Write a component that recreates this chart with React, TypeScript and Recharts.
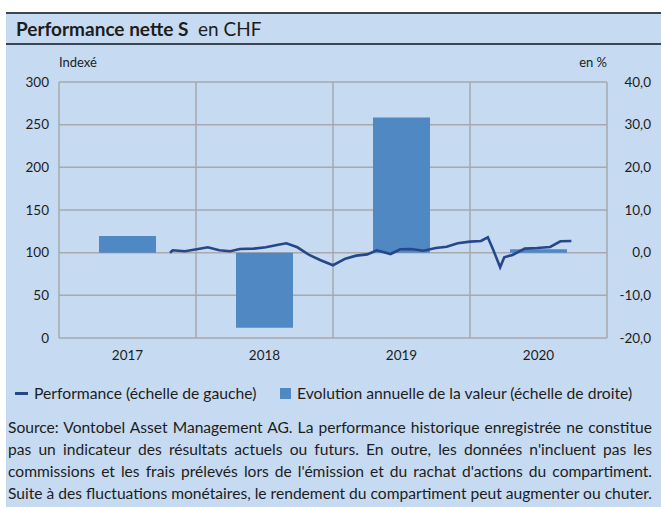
import {
  ComposedChart,
  Bar,
  Line,
  XAxis,
  YAxis,
  CartesianGrid,
} from 'recharts';

const years = ['2017', '2018', '2019', '2020'];
const annualReturns = [3.9, -17.6, 31.7, 0.8];

// performance index (left scale), dates as decimal years
const perfDates = [
  2017.81, 2017.83, 2017.92, 2018.015, 2018.086, 2018.17, 2018.25, 2018.32,
  2018.42, 2018.51, 2018.6, 2018.66, 2018.74, 2018.83, 2018.91, 2019.0,
  2019.09, 2019.17, 2019.25, 2019.32, 2019.42, 2019.49, 2019.57, 2019.66,
  2019.75, 2019.83, 2019.91, 2020.0, 2020.08, 2020.13, 2020.17, 2020.22,
  2020.25, 2020.31, 2020.4, 2020.49, 2020.585, 2020.66, 2020.74,
];
const perfIndex = [
  100, 102.8, 101.6, 104.3, 106.3, 102.8, 101.6, 104.3,
  104.7, 106.3, 109.3, 111, 106.3, 97, 91.1, 85.3,
  93, 96.5, 98, 102.8, 98.4, 104, 104.3, 102.3,
  105.5, 107, 111, 112.9, 113.7, 118, 103.1, 82.9,
  94.6, 97.3, 104.7, 105.5, 106.7, 113.3, 113.7,
];

const leftTicks = [0, 50, 100, 150, 200, 250, 300];
const rightTicks = [-20, -10, 0, 10, 20, 30, 40];
const timeTicks = [2017, 2018, 2019, 2020, 2021];

const footerLines = [
  'Source: Vontobel Asset Management AG. La performance historique enregistrée ne constitue',
  "pas un indicateur des résultats actuels ou futurs. En outre, les données n'incluent pas les",
  "commissions et les frais prélevés lors de l'émission et du rachat d'actions du compartiment.",
  'Suite à des fluctuations monétaires, le rendement du compartiment peut augmenter ou chuter.',
];

const FONT = 'Lato, "Open Sans", sans-serif';
const BG = '#c6daf1';
const BAR = '#4f88c3';
const LINE = '#27478b';
const GRID = '#a7a9ac';
const TEXT = '#1d1d1d';

const barData = years.map((y, i) => ({ year: y, ret: annualReturns[i] }));
const lineData = perfDates.map((t, i) => ({ t, v: perfIndex[i] }));

const RightTick = (props: any) => {
  const { x, y, payload } = props;
  return (
    <text x={x + 44} y={y} dy="0.35em" textAnchor="end" fontSize={13.5} fill={TEXT} fontFamily={FONT}>
      {payload.value.toFixed(1).replace('.', ',')}
    </text>
  );
};

export default function App() {
  return (
    <div
      style={{
        position: 'relative',
        width: 661,
        height: 507,
        background: '#fff',
        fontFamily: FONT,
        color: TEXT,
        overflow: 'hidden',
      }}
    >
      <style>{'body{margin:0;overflow:hidden}'}</style>
      <div style={{ position: 'absolute', left: 6, top: 12, width: 655, height: 495, background: BG }} />
      <div style={{ position: 'absolute', left: 6, top: 12, width: 655, height: 2, background: '#3b4652' }} />
      <div style={{ position: 'absolute', left: 6, top: 43, width: 655, height: 2, background: '#3b4652' }} />
      <div style={{ position: 'absolute', left: 16, top: 17, fontSize: 19, lineHeight: '24px', whiteSpace: 'nowrap' }}>
        <b>Performance nette S</b>&nbsp; en CHF
      </div>
      <div style={{ position: 'absolute', left: 59, top: 53, fontSize: 13, lineHeight: '18px' }}>Indexé</div>
      <div style={{ position: 'absolute', right: 661 - 607, top: 53, fontSize: 13, lineHeight: '18px' }}>en %</div>

      <div style={{ position: 'absolute', left: 0, top: 0 }}>
        <ComposedChart width={661} height={380} data={barData} margin={{ top: 82, right: 0, bottom: 12, left: 0 }}>
          <CartesianGrid xAxisId="t" yAxisId="left" stroke={GRID} strokeWidth={1.5} />
          <XAxis
            xAxisId="year"
            dataKey="year"
            axisLine={false}
            tickLine={false}
            tickSize={0}
            tickMargin={12}
            height={30}
            tick={{ fontSize: 13.5, fill: TEXT, fontFamily: FONT }}
          />
          <XAxis
            xAxisId="t"
            dataKey="t"
            type="number"
            domain={[2017, 2021]}
            ticks={timeTicks}
            allowDataOverflow
            height={0}
            hide
          />
          <YAxis
            yAxisId="left"
            domain={[0, 300]}
            ticks={leftTicks}
            width={59}
            axisLine={false}
            tickLine={false}
            tickSize={0}
            tickMargin={10}
            tick={{ fontSize: 13.5, fill: TEXT, fontFamily: FONT }}
          />
          <YAxis
            yAxisId="right"
            orientation="right"
            domain={[-20, 40]}
            ticks={rightTicks}
            width={54}
            axisLine={false}
            tickLine={false}
            tickSize={0}
            tickMargin={0}
            tick={<RightTick />}
          />
          <Bar xAxisId="year" yAxisId="right" dataKey="ret" fill={BAR} barSize={57} isAnimationActive={false} />
          <Line
            xAxisId="t"
            yAxisId="left"
            data={lineData}
            dataKey="v"
            type="linear"
            stroke={LINE}
            strokeWidth={2.6}
            dot={false}
            isAnimationActive={false}
          />
        </ComposedChart>
      </div>

      <div style={{ position: 'absolute', left: 15, top: 392, width: 13, height: 3, background: LINE }} />
      <div style={{ position: 'absolute', left: 34, top: 383, fontSize: 15.7, lineHeight: '20px', whiteSpace: 'nowrap' }}>
        Performance (échelle de gauche)
      </div>
      <div style={{ position: 'absolute', left: 280, top: 388, width: 11, height: 11, background: BAR }} />
      <div style={{ position: 'absolute', left: 297, top: 383, fontSize: 15.7, lineHeight: '20px', whiteSpace: 'nowrap' }}>
        Evolution annuelle de la valeur (échelle de droite)
      </div>

      <div
        style={{
          position: 'absolute',
          left: 8,
          top: 416,
          width: 644,
          fontSize: 15.6,
          lineHeight: '22px',
          overflow: 'hidden',
        }}
      >
        {footerLines.map((l) => (
          <div key={l} style={{ textAlign: 'justify', textAlignLast: 'justify', whiteSpace: 'nowrap' }}>
            {l}
          </div>
        ))}
      </div>
    </div>
  );
}
